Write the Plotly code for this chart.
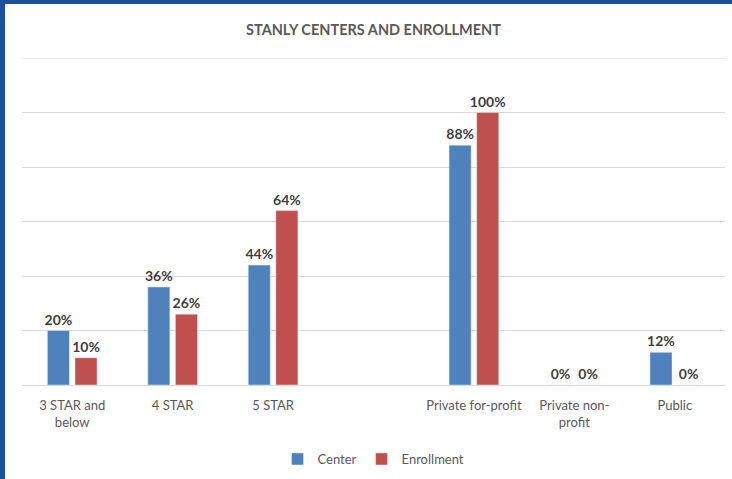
import plotly.graph_objects as go

categories = ["3 STAR and<br>below", "4 STAR", "5 STAR", " ", "Private for-profit", "Private non-<br>profit", "Public"]
center = [20, 36, 44, None, 88, 0, 12]
enrollment = [10, 26, 64, None, 100, 0, 0]

W, H = 732, 479
ml, mr, mt, mb = 22, 7, 58, 94
pw, ph = W - ml - mr, H - mt - mb

def px_x(px):
    return (px - ml) / pw

def px_y(py):
    return (H - mb - py) / ph

FONT = "Lato, Carlito, Calibri, sans-serif"
label_font = dict(family=FONT, size=14, color="#404040")

fig = go.Figure()
fig.add_trace(go.Bar(
    name="Center", x=categories, y=center, marker_color="#4F81BD",
    text=[None if v is None else f"<b>{v}%</b>" for v in center],
    textposition="outside", textfont=label_font, cliponaxis=False, constraintext="none",
))
fig.add_trace(go.Bar(
    name="Enrollment", x=categories, y=enrollment, marker_color="#C0504D",
    text=[None if v is None else f"<b>{v}%</b>" for v in enrollment],
    textposition="outside", textfont=label_font, cliponaxis=False, constraintext="none",
))

fig.update_layout(
    width=W, height=H,
    margin=dict(l=ml, r=mr, t=mt, b=mb, autoexpand=False),
    paper_bgcolor="white", plot_bgcolor="white",
    barmode="group", bargap=0.45, bargroupgap=0.2,
    title=dict(text="<b>STANLY CENTERS AND ENROLLMENT</b>", x=0.5, xref="paper", xanchor="center",
               y=1 - 30 / H, yanchor="middle",
               font=dict(family=FONT, size=14.5, color="#595959")),
    font=dict(family=FONT, size=13, color="#595959"),
    showlegend=True,
    legend=dict(orientation="h", x=0.5, xanchor="center", y=px_y(459), yanchor="middle",
                font=dict(size=13, color="#595959"), itemwidth=30, traceorder="normal"),
    xaxis=dict(type="category", showgrid=False, showline=True, linecolor="#d9d9d9",
               ticks="", ticklabelstandoff=8, automargin=False,
               tickfont=dict(size=13, color="#595959")),
    yaxis=dict(range=[0, 120], dtick=20, showgrid=True, gridcolor="#d9d9d9",
               showticklabels=False, zeroline=False, showline=False, automargin=False),
    shapes=[
        dict(type="line", xref="paper", yref="y", x0=0, x1=1, y0=120, y1=120,
             line=dict(color="#d9d9d9", width=1), layer="below"),
        dict(type="rect", xref="paper", yref="paper", x0=px_x(0), x1=px_x(5), y0=px_y(H), y1=px_y(0),
             fillcolor="#1F4E9C", line_width=0, layer="above"),
        dict(type="rect", xref="paper", yref="paper", x0=px_x(0), x1=px_x(W), y0=px_y(4), y1=px_y(0),
             fillcolor="#1F4E9C", line_width=0, layer="above"),
    ],
)

fig.write_html(
    "out.html",
    config={"displayModeBar": False},
    post_script=(
        "document.body.style.margin='0';document.body.style.padding='0';"
        "document.documentElement.style.overflow='hidden';window.scrollTo(0,0);"
    ),
)
